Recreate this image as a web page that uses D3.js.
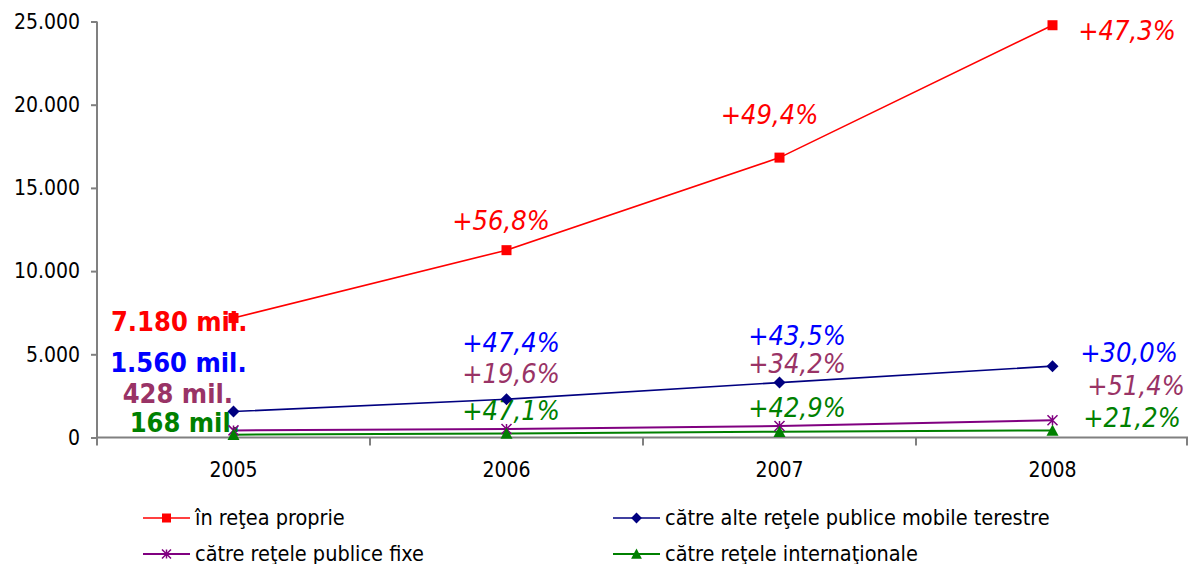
<!DOCTYPE html>
<html>
<head>
<meta charset="utf-8">
<script src="https://cdn.jsdelivr.net/npm/d3@7"></script>
<style>
  body { margin: 0; background: #fff; }
  svg { display: block; }
  text { font-family: "DejaVu Sans Condensed", "DejaVu Sans", Verdana, sans-serif; }
</style>
</head>
<body>
<svg id="chart" width="1188" height="564"></svg>
<script>
// ---- data ----
const years = ["2005", "2006", "2007", "2008"];
const yTicks = [0, 5000, 10000, 15000, 20000, 25000];
const seriesNames = [
  "în reţea proprie",
  "către alte reţele publice mobile terestre",
  "către reţele publice fixe",
  "către reţele internaţionale"
];
const inReteaProprie = [7180, 11258, 16820, 24776];
const alteMobile = [1560, 2299, 3300, 4289];
const publiceFixe = [428, 512, 687, 1040];
const internationale = [168, 247, 353, 428];
const growthProprie = ["", "+56,8%", "+49,4%", "+47,3%"];
const growthMobile = ["", "+47,4%", "+43,5%", "+30,0%"];
const growthFixe = ["", "+19,6%", "+34,2%", "+51,4%"];
const growthIntl = ["", "+47,1%", "+42,9%", "+21,2%"];
const startLabels = ["7.180 mil.", "1.560 mil.", "428 mil.", "168 mil."];

// ---- presentation ----
const styles = [
  { line: "#FF0000", text: "#FF0000", marker: "square" },
  { line: "#000080", text: "#0000FF", marker: "diamond" },
  { line: "#800080", text: "#993366", marker: "asterisk" },
  { line: "#008000", text: "#008000", marker: "triangle" }
];
// growth label offsets (centre x, baseline y) relative to the point
const growthOffsets = [
  [null, [-5.5, -20], [-10, -34], [74.5, 15]],
  [null, [4.5, -47.5], [17.5, -37.6], [76.5, -4.4]],
  [null, [4.5, -45.7], [17.5, -53.4], [83.5, -25.2]],
  [null, [4.5, -13.4], [17.5, -14.9], [79.5, -3.7]]
];
const startOffsets = [[-54.3, 13], [-55.1, -39.8], [-55.6, -27.4], [-48.7, -3]];

const series = [inReteaProprie, alteMobile, publiceFixe, internationale];
const growth = [growthProprie, growthMobile, growthFixe, growthIntl];

const svg = d3.select("#chart");
const x = d3.scaleBand().domain(years).range([97, 1189]);
const cx = d => x(d) + x.bandwidth() / 2;
const y = d3.scaleLinear().domain([0, 25000]).range([437.5, 21.5]);

const ro = d3.formatLocale({ decimal: ",", thousands: ".", grouping: [3], currency: ["", ""] });
const fmt = ro.format(",");

const axisColor = "#808080";

// y axis
const yAxis = svg.append("g")
  .attr("transform", "translate(97,0)")
  .call(d3.axisLeft(y).tickValues(yTicks).tickFormat(fmt).tickSize(6).tickPadding(11));
yAxis.select(".domain").attr("stroke", axisColor).attr("stroke-width", 2)
  .attr("d", `M0,${y(25000)}V445`);
yAxis.selectAll(".tick line").attr("stroke", axisColor).attr("stroke-width", 2);
yAxis.selectAll(".tick text").attr("font-size", 21).attr("fill", "#000");

// x axis
const xAxis = svg.append("g")
  .attr("transform", `translate(0,${y(0)})`)
  .call(d3.axisBottom(x).tickSize(0).tickPadding(25));
xAxis.select(".domain").attr("stroke", axisColor).attr("stroke-width", 2)
  .attr("d", `M97,0H1188`);
xAxis.selectAll(".tick text").attr("font-size", 21).attr("fill", "#000");
const bounds = d3.range(years.length + 1).map(i => x.range()[0] + i * x.bandwidth());
xAxis.selectAll(".sep").data(bounds).join("line")
  .attr("class", "sep")
  .attr("x1", d => Math.min(d, 1187)).attr("x2", d => Math.min(d, 1187))
  .attr("y1", 0).attr("y2", 8)
  .attr("stroke", axisColor).attr("stroke-width", 2);

// markers
function drawMarker(g, type, color, px, py, s) {
  if (type === "square") {
    g.append("rect").attr("x", px - s / 2).attr("y", py - s / 2)
      .attr("width", s).attr("height", s).attr("fill", color);
  } else if (type === "diamond") {
    const h = s * 0.6;
    g.append("path").attr("d", `M${px},${py - h}L${px + h},${py}L${px},${py + h}L${px - h},${py}Z`)
      .attr("fill", color);
  } else if (type === "triangle") {
    const h = s * 0.6;
    g.append("path").attr("d", `M${px},${py - h}L${px + h},${py + h * 0.9}L${px - h},${py + h * 0.9}Z`)
      .attr("fill", color);
  } else if (type === "asterisk") {
    const h = s / 2;
    g.append("path")
      .attr("d", `M${px - h},${py - h}L${px + h},${py + h}M${px + h},${py - h}L${px - h},${py + h}M${px},${py - h}V${py + h}`)
      .attr("stroke", color).attr("stroke-width", 1.5).attr("fill", "none");
  }
}

const line = d3.line().x((d, i) => cx(years[i])).y(d => y(d));

// series lines
series.forEach((vals, k) => {
  svg.append("path").datum(vals)
    .attr("d", line)
    .attr("fill", "none")
    .attr("stroke", styles[k].line)
    .attr("stroke-width", k >= 2 ? 2 : 1.6);
});

// starting value labels
series.forEach((vals, k) => {
  svg.append("text")
    .attr("x", cx(years[0]) + startOffsets[k][0])
    .attr("y", y(vals[0]) + startOffsets[k][1])
    .attr("text-anchor", "middle")
    .attr("font-size", 27).attr("font-weight", "bold")
    .attr("fill", styles[k].text)
    .text(startLabels[k]);
});

// growth labels
series.forEach((vals, k) => {
  growth[k].forEach((g, i) => {
    if (!g) return;
    const o = growthOffsets[k][i];
    svg.append("text")
      .attr("x", cx(years[i]) + o[0])
      .attr("y", y(vals[i]) + o[1])
      .attr("text-anchor", "middle")
      .attr("font-size", 27).attr("font-style", "italic")
      .attr("fill", styles[k].text)
      .text(g);
  });
});

// point markers (on top)
const mg = svg.append("g");
series.forEach((vals, k) => {
  vals.forEach((v, i) => drawMarker(mg, styles[k].marker, styles[k].line, cx(years[i]), y(v), 10));
});

// legend
const legendItems = [
  { k: 0, lx: 143, ly: 518 },
  { k: 1, lx: 613, ly: 518 },
  { k: 2, lx: 143, ly: 554 },
  { k: 3, lx: 613, ly: 554 }
];
const lg = svg.append("g");
legendItems.forEach(it => {
  const st = styles[it.k];
  lg.append("line").attr("x1", it.lx).attr("x2", it.lx + 47)
    .attr("y1", it.ly).attr("y2", it.ly)
    .attr("stroke", st.line).attr("stroke-width", it.k >= 2 ? 2 : 1.6);
  drawMarker(lg, st.marker, st.line, it.lx + 23.5, it.ly, 9);
  lg.append("text").attr("x", it.lx + 52).attr("y", it.ly + 7)
    .attr("font-size", 21.5).attr("fill", "#000")
    .text(seriesNames[it.k]);
});
</script>
</body>
</html>
